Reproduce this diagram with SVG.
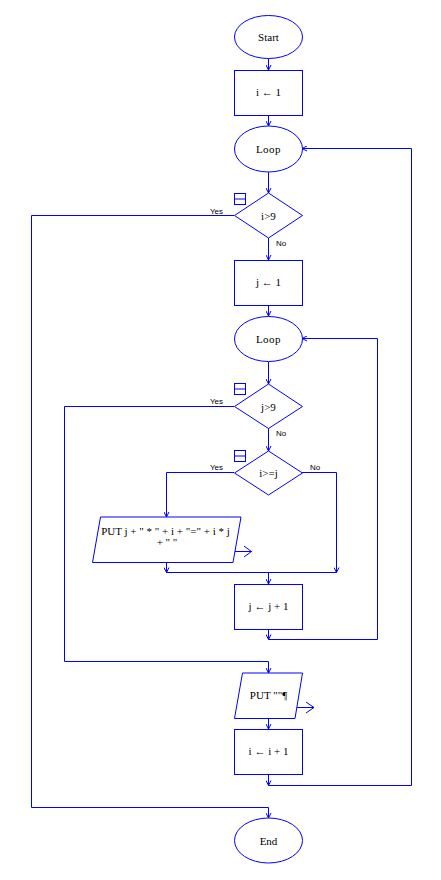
<svg xmlns="http://www.w3.org/2000/svg" width="441" height="880" viewBox="0 0 441 880">
<defs>
<style>
.s{fill:#fff;stroke:#0000ff;stroke-width:1}
.c{fill:none;stroke:#0000ff;stroke-width:1}
.t{font-family:"Liberation Serif","Times New Roman",serif;font-size:11px;fill:#000;text-anchor:middle}
.l{font-family:"Liberation Sans",Arial,sans-serif;font-size:8px;fill:#000}
</style>
<marker id="a" viewBox="0 0 6 6" refX="6" refY="3" markerWidth="6" markerHeight="6" markerUnits="userSpaceOnUse" orient="auto">
<path d="M1,0.5 L6,3 L1,5.5" fill="none" stroke="#0000ff" stroke-width="1"/>
</marker>
</defs>
<rect width="441" height="880" fill="#fff"/>
<g id="connectors">
<path class="c" d="M268.5,58 V70" marker-end="url(#a)"/>
<path class="c" d="M268.5,115 V126" marker-end="url(#a)"/>
<path class="c" d="M268.5,172 V193" marker-end="url(#a)"/>
<path class="c" d="M268.5,238 V260" marker-end="url(#a)"/>
<path class="c" d="M268.5,305 V316" marker-end="url(#a)"/>
<path class="c" d="M268.5,362 V384" marker-end="url(#a)"/>
<path class="c" d="M268.5,428 V451" marker-end="url(#a)"/>
<path class="c" d="M234,472.5 H166.5 V517" marker-end="url(#a)"/>
<path class="c" d="M302,472.5 H336.5 V572.5" marker-end="url(#a)"/>
<path class="c" d="M166.5,562 V572.5" marker-end="url(#a)"/>
<path class="c" d="M166.5,572.5 H336.5"/>
<path class="c" d="M268.5,572.5 V584" marker-end="url(#a)"/>
<path class="c" d="M268.5,629 V639.5" marker-end="url(#a)"/>
<path class="c" d="M268.5,639.5 H377.5 V338.5 H302" marker-end="url(#a)"/>
<path class="c" d="M234,406.5 H64.5 V661.5 H268.5 V673" marker-end="url(#a)"/>
<path class="c" d="M268.5,718 V729" marker-end="url(#a)"/>
<path class="c" d="M268.5,774 V785.5" marker-end="url(#a)"/>
<path class="c" d="M268.5,785.5 H411.5 V148.5 H302" marker-end="url(#a)"/>
<path class="c" d="M234,215.5 H31.5 V807.5 H268.5 V818" marker-end="url(#a)"/>
<text class="l" x="210" y="214">Yes</text>
<text class="l" x="276" y="246">No</text>
<text class="l" x="210" y="404">Yes</text>
<text class="l" x="276" y="436">No</text>
<text class="l" x="210" y="470">Yes</text>
<text class="l" x="310" y="470">No</text>
</g>
<g id="start">
<ellipse class="s" cx="268.5" cy="37" rx="34" ry="21.5"/>
<text class="t" x="268.5" y="41">Start</text>
</g>
<g id="init_i">
<rect class="s" x="234.5" y="70.5" width="68" height="45"/>
<text class="t" x="268.5" y="96">i ← 1</text>
</g>
<g id="loop_i">
<ellipse class="s" cx="268.5" cy="149" rx="34" ry="23"/>
<text class="t" x="268.5" y="153" letter-spacing="0.5">Loop</text>
</g>
<g id="cond_i">
<polygon class="s" points="268.5,193 302.5,215.5 268.5,238 234.5,215.5"/>
<text class="t" x="268.5" y="219.5">i&gt;9</text>
<rect class="c" x="234.5" y="193.5" width="11" height="11"/>
<path class="c" d="M234.5,199 H245.5"/>
</g>
<g id="init_j">
<rect class="s" x="234.5" y="260.5" width="68" height="45"/>
<text class="t" x="268.5" y="286">j ← 1</text>
</g>
<g id="loop_j">
<ellipse class="s" cx="268.5" cy="339" rx="34" ry="22.5"/>
<text class="t" x="268.5" y="343" letter-spacing="0.5">Loop</text>
</g>
<g id="cond_j">
<polygon class="s" points="268.5,384 302.5,406.5 268.5,428.5 234.5,406.5"/>
<text class="t" x="268.5" y="410.5">j&gt;9</text>
<rect class="c" x="234.5" y="383.5" width="11" height="11"/>
<path class="c" d="M234.5,389 H245.5"/>
</g>
<g id="cond_ij">
<polygon class="s" points="268.5,451 302.5,473 268.5,495 234.5,473"/>
<text class="t" x="268.5" y="477">i&gt;=j</text>
<rect class="c" x="234.5" y="450.5" width="11" height="11"/>
<path class="c" d="M234.5,456 H245.5"/>
</g>
<g id="put_expr">
<polygon class="s" points="100.5,517 241,517 233,562.5 92.5,562.5"/>
<text class="t" x="165.5" y="535">PUT j + " * " + i + "=" + i * j</text>
<text class="t" x="167" y="546">+ " "</text>
<path class="c" d="M235,551.5 H251.5 M244,546 L251.5,551.5 L244,557"/>
</g>
<g id="inc_j">
<rect class="s" x="234.5" y="584.5" width="68" height="45"/>
<text class="t" x="268.5" y="610">j ← j + 1</text>
</g>
<g id="put_nl">
<polygon class="s" points="242.5,673 302.5,673 295,718.5 234.5,718.5"/>
<text class="t" x="268.5" y="699">PUT ""¶</text>
<path class="c" d="M297,707.5 H314 M306,702 L314,707.5 L306,713"/>
</g>
<g id="inc_i">
<rect class="s" x="234.5" y="729.5" width="68" height="45"/>
<text class="t" x="268.5" y="755">i ← i + 1</text>
</g>
<g id="end">
<ellipse class="s" cx="268.5" cy="840.5" rx="34" ry="22.5"/>
<text class="t" x="268.5" y="844.5">End</text>
</g>
</svg>
